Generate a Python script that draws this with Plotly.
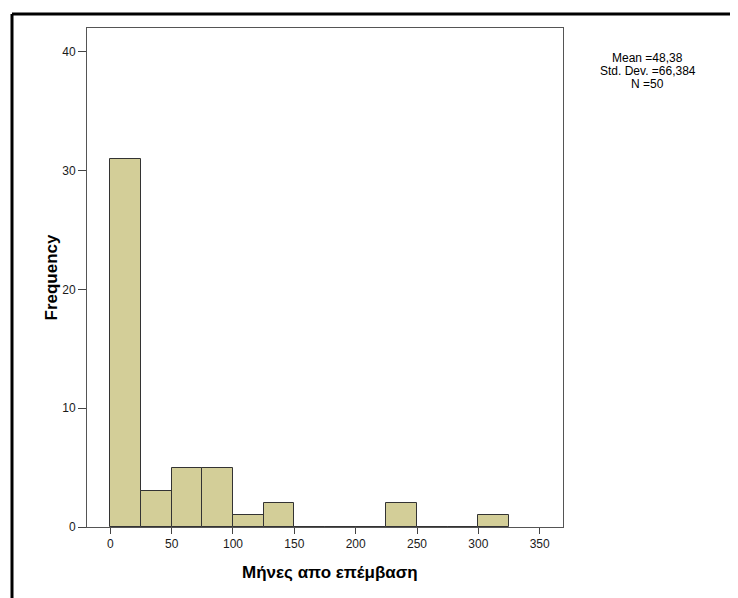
import plotly.graph_objects as go

# Data
bin_starts = [0, 25, 50, 75, 100, 125, 150, 175, 200, 225, 250, 275, 300]
counts = [31, 3, 5, 5, 1, 2, 0, 0, 0, 2, 0, 0, 1]
bin_width = 25
x_ticks = [0, 50, 100, 150, 200, 250, 300, 350]
y_ticks = [0, 10, 20, 30, 40]
stats_lines = ["Mean =48,38", "Std. Dev. =66,384", "N =50"]
x_title = "Μήνες απο επέμβαση"
y_title = "Frequency"

# page has an 8px body margin; work in page pixels and convert
OFF = 8
W, H = 738 - OFF, 598 - OFF
left, right, top, bottom = 87, 563, 28, 527  # plot area in page pixels
ml, mr, mt, mb = left - OFF, W - (right - OFF), top - OFF, H - (bottom - OFF)
pw, ph = right - left, bottom - top

def px_x(p):
    return (p - left) / pw

def px_y(p):
    return (bottom - p) / ph

centers = [s + bin_width / 2 for s in bin_starts]

fig = go.Figure(go.Bar(
    x=centers, y=counts, width=bin_width,
    marker=dict(color="#D3CE98", line=dict(color="#333333", width=1)),
    hoverinfo="x+y",
))

font = "Liberation Sans, Arial, sans-serif"
axis_common = dict(
    ticks="outside", tickcolor="#444444", showgrid=False, zeroline=False,
    showline=True, linecolor="#555555", linewidth=1, mirror=True,
    tickfont=dict(size=12, color="#1a1a1a", family=font),
)
fig.update_layout(
    width=W, height=H,
    margin=dict(l=ml, r=mr, t=mt, b=mb),
    paper_bgcolor="white", plot_bgcolor="white",
    showlegend=False,
    font=dict(family=font, size=12, color="#000000"),
    bargap=0,
    xaxis=dict(range=[-19, 369], tickvals=x_ticks, ticklen=6, **axis_common),
    yaxis=dict(range=[0, 42], tickvals=y_ticks, ticklen=8, **axis_common),
)

annotations = [
    dict(text="<b>" + x_title + "</b>", x=px_x(329.5), y=px_y(572),
         xanchor="center", yanchor="middle", font=dict(size=17, family=font, color="#000000")),
    dict(text="<b>" + y_title + "</b>", x=px_x(50.5), y=px_y(277), textangle=-90,
         xanchor="center", yanchor="middle", font=dict(size=17, family=font, color="#000000")),
]
for line, yc in zip(stats_lines, [57.5, 71, 84]):
    annotations.append(dict(text=line, x=px_x(647.5), y=px_y(yc),
                            xanchor="center", yanchor="middle",
                            font=dict(size=12, family=font, color="#000000")))
for a in annotations:
    a.update(xref="paper", yref="paper", showarrow=False)
fig.update_layout(annotations=annotations)

fig.update_layout(shapes=[
    dict(type="line", xref="paper", yref="paper",
         x0=px_x(12), x1=px_x(745), y0=px_y(14), y1=px_y(14),
         line=dict(color="black", width=3)),
    dict(type="line", xref="paper", yref="paper",
         x0=px_x(12), x1=px_x(12), y0=px_y(14), y1=px_y(610),
         line=dict(color="black", width=3)),
])

fig.write_html("out.html", config={"displayModeBar": False})
